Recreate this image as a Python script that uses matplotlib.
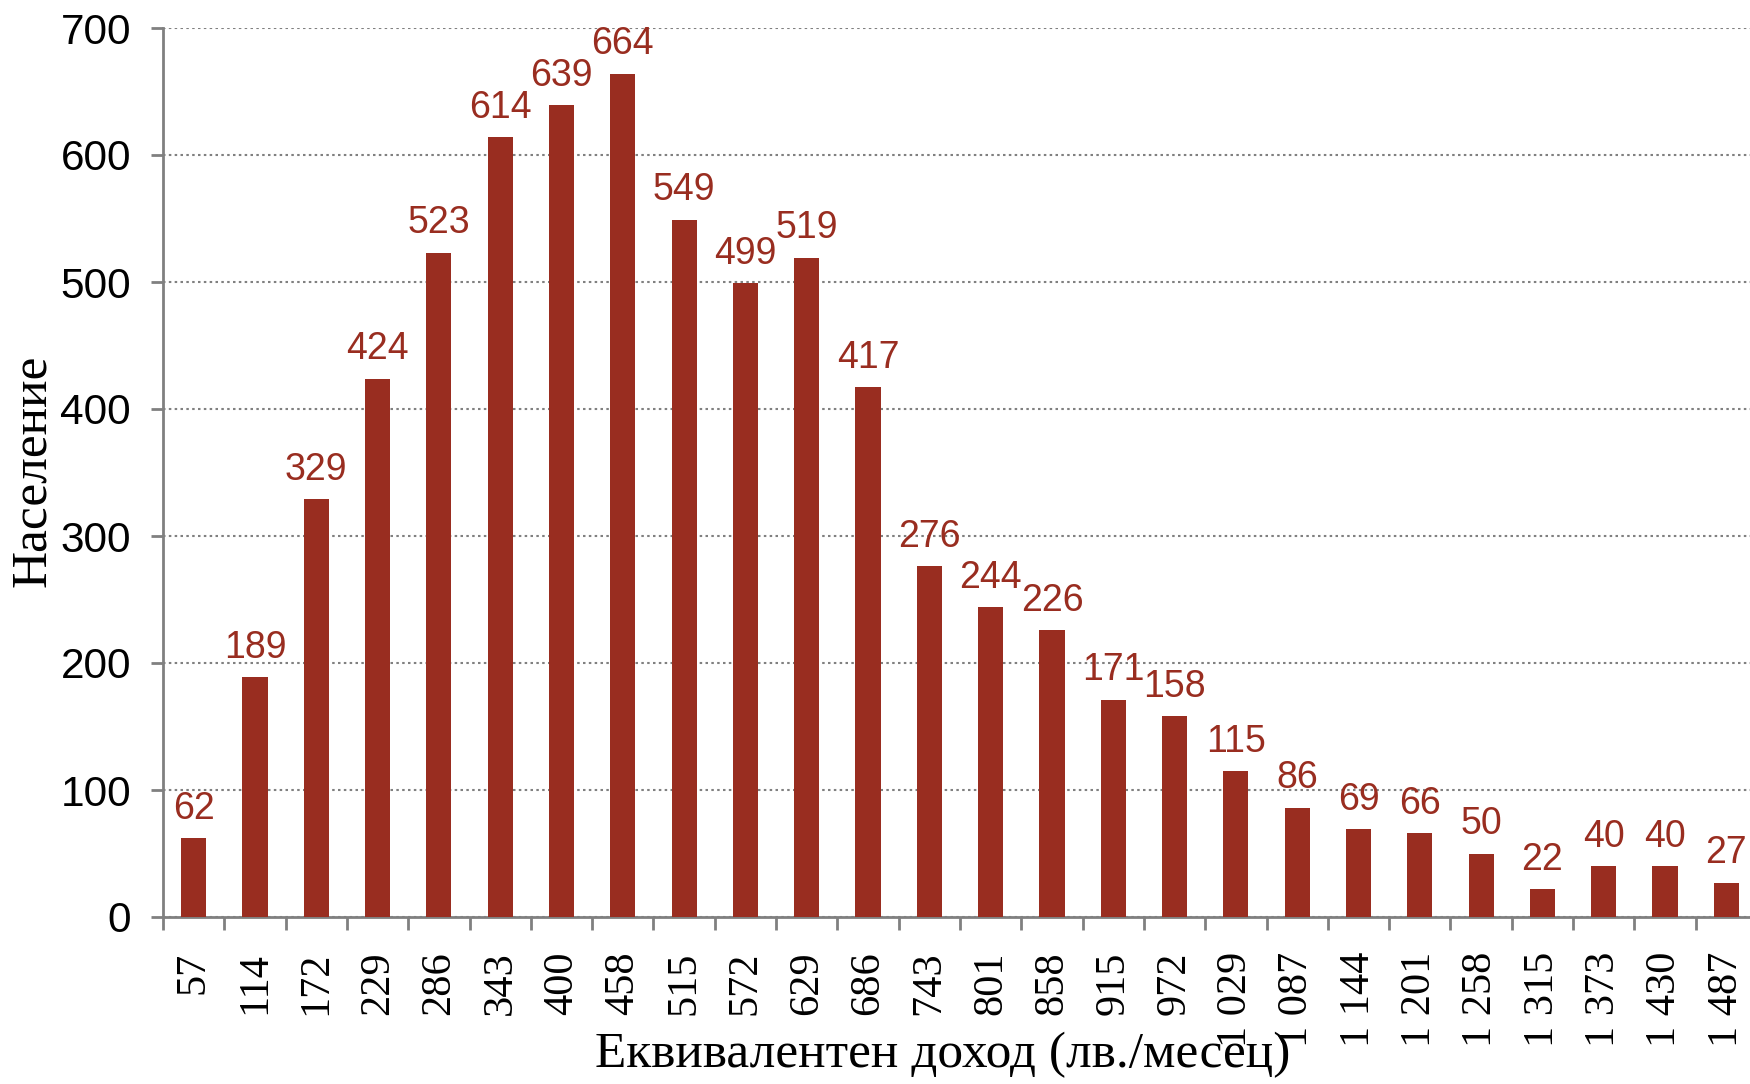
import matplotlib
matplotlib.use("Agg")
import matplotlib.pyplot as plt
import numpy as np

income_labels = ["57", "114", "172", "229", "286", "343", "400", "458", "515", "572",
                 "629", "686", "743", "801", "858", "915", "972", "1 029", "1 087",
                 "1 144", "1 201", "1 258", "1 315", "1 373", "1 430", "1 487"]
population = [62, 189, 329, 424, 523, 614, 639, 664, 549, 499, 519, 417, 276, 244,
              226, 171, 158, 115, 86, 69, 66, 50, 22, 40, 40, 27]
y_ticks = [0, 100, 200, 300, 400, 500, 600, 700]

bar_color = "#992D20"
axis_gray = "#808080"

W, H = 1750, 1084
fig = plt.figure(figsize=(W / 100, H / 100), dpi=100)
left, right, top, bottom = 163, 1757, 28, 917
ax = fig.add_axes([left / W, 1 - bottom / H, (right - left) / W, (bottom - top) / H])

x = np.arange(len(population))
ax.bar(x, population, width=0.41, color=bar_color, zorder=3)

for xi, v in zip(x, population):
    ax.annotate(str(v), (xi, v), xytext=(0, 14), textcoords="offset points",
                ha="center", va="baseline", color=bar_color,
                fontsize=27, family="Liberation Sans", zorder=4,
                annotation_clip=False)

ax.set_xlim(-0.5, len(population) - 0.5)
ax.set_ylim(0, 700)
ax.set_yticks(y_ticks)
ax.set_yticklabels([str(t) for t in y_ticks], family="Liberation Sans", fontsize=30.5)
ax.tick_params(axis="y", length=9, width=2, color=axis_gray, pad=14)

ax.set_xticks(x)
ax.set_xticklabels(income_labels, rotation=90, family="Liberation Serif", fontsize=30.5,
                   va="top", ha="center")
ax.set_xticks(np.arange(len(population) + 1) - 0.5, minor=True)
ax.tick_params(axis="x", which="major", length=0, pad=25)
ax.tick_params(axis="x", which="minor", length=9, width=2, color=axis_gray)

ax.yaxis.grid(True, linestyle=(0, (1.2, 1.6)), color="#808080", linewidth=1.5, zorder=0)
ax.set_axisbelow(True)

for s in ["top", "right"]:
    ax.spines[s].set_visible(False)
for s in ["left", "bottom"]:
    ax.spines[s].set_color(axis_gray)
    ax.spines[s].set_linewidth(2)

ax.set_ylabel("Население", family="Liberation Serif", fontsize=37)
ax.yaxis.set_label_coords(-0.0816, 0.502)
ax.set_xlabel("Еквивалентен доход (лв./месец)", family="Liberation Serif", fontsize=37)
ax.xaxis.set_label_coords(0.489, -0.155)
ax.xaxis.label.set_va("center")
ax.yaxis.label.set_va("center")

fig.savefig("out.png", dpi=100)
